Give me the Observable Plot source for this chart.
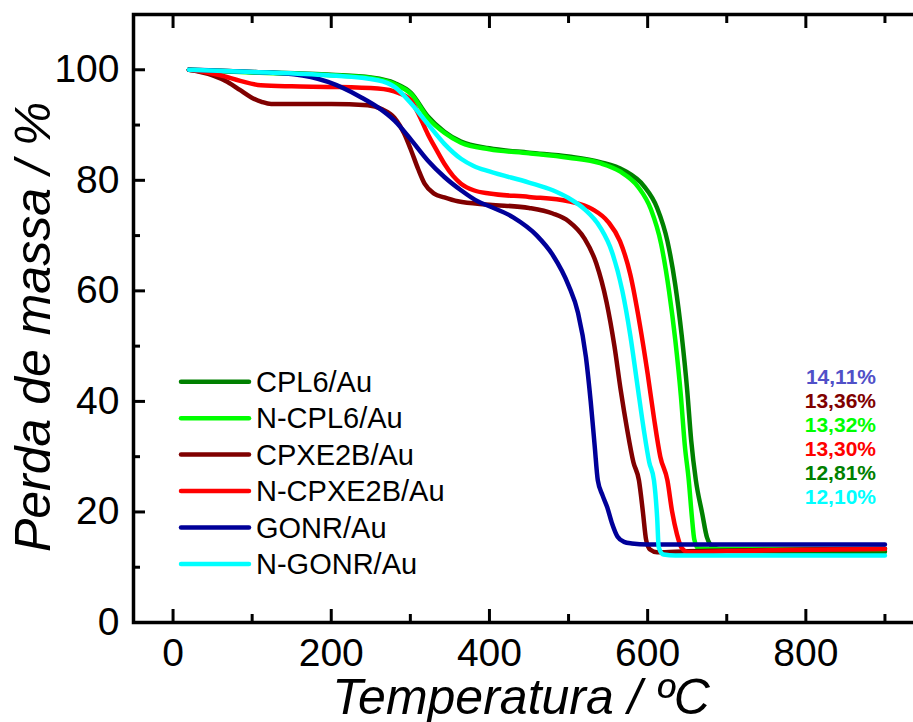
<!DOCTYPE html>
<html><head><meta charset="utf-8">
<script src="https://cdn.jsdelivr.net/npm/d3@7"></script>
<script src="https://cdn.jsdelivr.net/npm/@observablehq/plot@0.6"></script>
<style>
html,body{margin:0;padding:0;background:#fff;overflow:hidden;}
#wrap{position:relative;width:913px;height:722px;overflow:hidden;font-family:Arial,"Liberation Sans",sans-serif;}
#wrap svg{max-width:none !important;}
#wrap svg.overlay{position:absolute;left:0;top:0;}
</style></head><body><div id="wrap"></div>
<script>
// ---- data ----
const seriesNames = ["CPL6/Au", "N-CPL6/Au", "CPXE2B/Au", "N-CPXE2B/Au", "GONR/Au", "N-GONR/Au"];
const seriesColors = ["#008000", "#00ff00", "#800000", "#ff0000", "#000099", "#00ffff"];

const CPL6 = [[20,100],[100,99.6],[200,99.1],[250,98.6],[280,97.6],[301,95.8],[322,91.6],[343,88.8],[364,87],[400,85.8],[450,85],[500,84.3],[540,83.3],[570,81.8],[595,79],[612,75],[625,69],[635,61],[643,52],[650,42],[655,33],[661,25.7],[669,19.7],[675,15.4],[683,13.6],[700,13],[800,12.85],[900,12.81]];
const NCPL6 = [[20,100],[100,99.5],[200,99],[250,98.5],[280,97.4],[301,95.6],[322,91.3],[343,88.6],[364,86.8],[400,85.6],[450,84.9],[500,84.1],[540,83.1],[565,81.6],[588,78.8],[604,74.8],[617,68.5],[627,60],[635,51],[642,41],[647,32],[652,25.7],[656,19],[659,15],[664,13.4],[700,13.3],[900,13.32]];
const CPXE2B = [[20,100],[50,99],[69,97.8],[85,96.3],[99,95],[112,94.2],[124,93.8],[200,93.8],[246,93.6],[265,92.8],[280,91.3],[292,88.5],[301,85.4],[310,82],[318,79.4],[330,77.6],[343,76.9],[360,76.2],[400,75.6],[450,75],[480,74],[500,72.6],[520,69.5],[535,65],[548,58],[558,50],[566,42],[574,35],[582,29],[589,25.7],[594,20],[598,15],[603,13.2],[612,12.7],[650,12.9],[800,13.2],[900,13.36]];
const NCPXE2B = [[20,100],[40,99.6],[60,99],[85,98],[111,97.2],[150,97],[200,96.9],[259,96.6],[285,95.8],[301,94.4],[312,91.5],[322,88.4],[333,85.5],[343,83],[354,80.8],[364,79.4],[380,78.2],[400,77.6],[450,77],[500,76.2],[530,74.8],[550,72.5],[565,69],[578,63],[590,54],[600,45],[608,37],[616,30],[625,25.7],[631,20],[637,16],[643,13.5],[652,12.7],[700,12.9],[900,13.3]];
const GONR = [[20,100],[100,99.6],[153,99.2],[196,97.8],[238,95],[260,93.1],[280,90.8],[300,87.5],[322,83.6],[343,80.6],[364,78.2],[385,76.2],[400,75.3],[430,73.3],[460,70],[480,66.5],[500,61],[512,56],[522,48],[528,40],[533,32],[537,25.7],[543,23],[549,20.8],[555,17.9],[562,15.5],[570,14.6],[580,14.3],[600,14.1],[900,14.11]];
const NGONR = [[20,100],[100,99.6],[196,99],[259,98.1],[280,96.9],[301,93.9],[322,90.2],[343,86.6],[364,83.9],[380,82.6],[400,81.6],[450,79.6],[480,78.2],[500,76.8],[520,74.8],[540,71.5],[555,67],[568,60],[578,52],[587,43],[595,35],[602,29],[608,25.7],[612,19],[614,13.6],[620,12.3],[635,12.1],[900,12.1]];
const seriesData = [CPL6, NCPL6, CPXE2B, NCPXE2B, GONR, NGONR];

const residueLabels = ["14,11%", "13,36%", "13,32%", "13,30%", "12,81%", "12,10%"];
const residueColors = ["#5050c8", "#800000", "#00ff00", "#ff0000", "#008000", "#00ffff"];

const xMajorTicks = [0, 200, 400, 600, 800];
const xMinorTicks = [100, 300, 500, 700, 900];
const yMajorTicks = [0, 20, 40, 60, 80, 100];
const yMinorTicks = [10, 30, 50, 70, 90];
const xTitle = "Temperatura / ºC";
const yTitle = "Perda de massa / %";

// ---- build ----
const rows = seriesData.flatMap((pts, i) => pts.map(([T, w]) => ({series: seriesNames[i], T, w})));
const FONT = "Arial, 'Liberation Sans', sans-serif";

const plot = Plot.plot({
  width: 935, height: 722,
  marginLeft: 133, marginRight: 11, marginTop: 14, marginBottom: 100,
  style: {fontFamily: FONT, background: "white", color: "black", overflow: "visible", maxWidth: "none"},
  x: {domain: [-50, 950], label: null},
  y: {domain: [0, 110], label: null},
  color: {domain: seriesNames, range: seriesColors},
  marks: [
    Plot.line(rows, {x: "T", y: "w", z: "series", stroke: "series", strokeWidth: 4.5, curve: "monotone-x"}),
    Plot.frame({stroke: "black", strokeWidth: 3.5}),
    Plot.axisX(xMajorTicks, {anchor: "bottom", tickSize: -13, strokeWidth: 3, fill: "none", label: null}),
    Plot.axisX(xMinorTicks, {anchor: "bottom", tickSize: -8, strokeWidth: 3, fill: "none", label: null}),
    Plot.axisX(xMajorTicks, {anchor: "top", tickSize: -13, strokeWidth: 3, fill: "none", label: null}),
    Plot.axisX(xMinorTicks, {anchor: "top", tickSize: -8, strokeWidth: 3, fill: "none", label: null}),
    Plot.axisY(yMajorTicks, {anchor: "left", tickSize: -12, strokeWidth: 3, fill: "none", label: null}),
    Plot.axisY(yMinorTicks, {anchor: "left", tickSize: -7, strokeWidth: 3, fill: "none", label: null}),
    Plot.axisY(yMajorTicks, {anchor: "right", tickSize: -12, strokeWidth: 3, fill: "none", label: null}),
    Plot.axisY(yMinorTicks, {anchor: "right", tickSize: -7, strokeWidth: 3, fill: "none", label: null}),
    Plot.axisX(xMajorTicks, {anchor: "bottom", tickSize: 0, tickPadding: 16, fontSize: 39, stroke: "none", label: null}),
    Plot.axisY(yMajorTicks, {anchor: "left", tickSize: 0, tickPadding: 14, fontSize: 39, stroke: "none", label: null})
  ]
});

const wrap = document.getElementById("wrap");
wrap.appendChild(plot);

// overlay: legend, residue labels, axis titles
const svg = d3.select(wrap).append("svg").attr("class", "overlay")
  .attr("width", 913).attr("height", 722).style("font-family", FONT);

const leg = svg.append("g");
seriesNames.forEach((name, i) => {
  const yy = 381.7 + i * 36.46;
  leg.append("line").attr("x1", 181).attr("x2", 249).attr("y1", yy).attr("y2", yy)
    .attr("stroke", seriesColors[i]).attr("stroke-width", 4.5).attr("stroke-linecap", "round");
  leg.append("text").attr("x", 256).attr("y", yy + 10.2).attr("font-size", 29).attr("fill", "black").text(name);
});

residueLabels.forEach((t, i) => {
  svg.append("text").attr("x", 876).attr("y", 383.5 + i * 24.1).attr("text-anchor", "end")
    .attr("font-size", 21).attr("font-weight", "bold").attr("fill", residueColors[i]).text(t);
});

svg.append("text").attr("x", 521).attr("y", 714).attr("text-anchor", "middle")
  .attr("font-size", 50).attr("font-style", "italic").attr("fill", "black").text(xTitle);
svg.append("text").attr("transform", "translate(50,327) rotate(-90)").attr("text-anchor", "middle")
  .attr("font-size", 50).attr("font-style", "italic").attr("fill", "black").text(yTitle);
</script></body></html>
